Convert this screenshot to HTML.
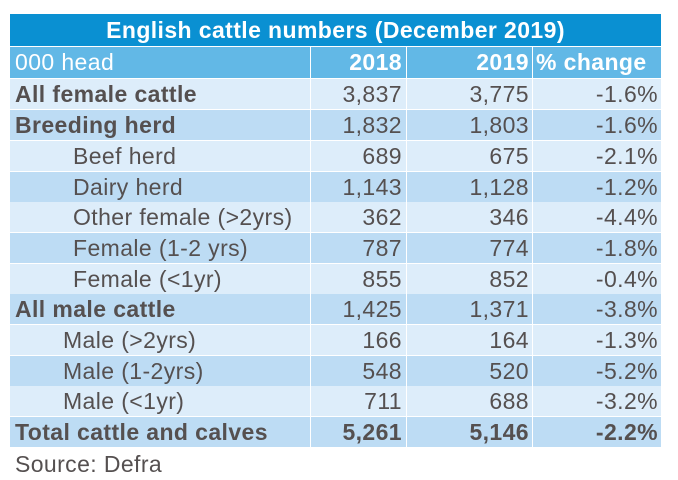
<!DOCTYPE html>
<html><head><style>
body{margin:0;width:678px;height:480px;background:#fff;font-family:"Liberation Sans",sans-serif;position:relative;overflow:hidden;letter-spacing:0.4px}
.r{position:absolute;left:10px;width:651px;height:30px;font-size:23px;color:#555050}
.c{position:absolute;top:0;height:100%;line-height:31px;box-sizing:border-box;white-space:nowrap}
.ca{left:0;width:300px;padding-left:5px}
.cb{left:301px;width:95px;text-align:right;padding-right:4px}
.cd{left:397px;width:125px;text-align:right;padding-right:3px}
.ce{left:523px;width:128px;text-align:right;padding-right:3px}
.lt .c{background:#ddedfa}.md .c{background:#bddcf4}
.bold{font-weight:bold}
</style></head><body>
<div style="position:absolute;left:10px;top:14px;width:651px;height:32px;background:#0a90d2;color:#fff;font-weight:bold;font-size:23px;text-align:center;line-height:32px">English cattle numbers (December 2019)</div>
<div class="r" style="top:47px;height:31px;color:#fff"><div class="c ca" style="background:#62b8e6">000 head</div><div class="c cb bold" style="background:#62b8e6">2018</div><div class="c cd bold" style="background:#62b8e6">2019</div><div class="c ce bold" style="background:#62b8e6;text-align:left;padding-left:3px">% change</div></div>
<div class="r lt" style="top:79px"><div class="c ca bold">All female cattle</div><div class="c cb">3,837</div><div class="c cd">3,775</div><div class="c ce">-1.6%</div></div>
<div class="r md" style="top:110px"><div class="c ca bold">Breeding herd</div><div class="c cb">1,832</div><div class="c cd">1,803</div><div class="c ce">-1.6%</div></div>
<div class="r lt" style="top:141px"><div class="c ca" style="padding-left:63px">Beef herd</div><div class="c cb">689</div><div class="c cd">675</div><div class="c ce">-2.1%</div></div>
<div class="r md" style="top:172px"><div class="c ca" style="padding-left:63px">Dairy herd</div><div class="c cb">1,143</div><div class="c cd">1,128</div><div class="c ce">-1.2%</div></div>
<div class="r lt" style="top:202px"><div class="c ca" style="padding-left:63px">Other female (&gt;2yrs)</div><div class="c cb">362</div><div class="c cd">346</div><div class="c ce">-4.4%</div></div>
<div class="r md" style="top:233px"><div class="c ca" style="padding-left:63px">Female (1-2 yrs)</div><div class="c cb">787</div><div class="c cd">774</div><div class="c ce">-1.8%</div></div>
<div class="r lt" style="top:264px"><div class="c ca" style="padding-left:63px">Female (&lt;1yr)</div><div class="c cb">855</div><div class="c cd">852</div><div class="c ce">-0.4%</div></div>
<div class="r md" style="top:294px"><div class="c ca bold">All male cattle</div><div class="c cb">1,425</div><div class="c cd">1,371</div><div class="c ce">-3.8%</div></div>
<div class="r lt" style="top:325px"><div class="c ca" style="padding-left:53px">Male (&gt;2yrs)</div><div class="c cb">166</div><div class="c cd">164</div><div class="c ce">-1.3%</div></div>
<div class="r md" style="top:356px"><div class="c ca" style="padding-left:53px">Male (1-2yrs)</div><div class="c cb">548</div><div class="c cd">520</div><div class="c ce">-5.2%</div></div>
<div class="r lt" style="top:386px"><div class="c ca" style="padding-left:53px">Male (&lt;1yr)</div><div class="c cb">711</div><div class="c cd">688</div><div class="c ce">-3.2%</div></div>
<div class="r md" style="top:417px"><div class="c ca bold">Total cattle and calves</div><div class="c cb bold">5,261</div><div class="c cd bold">5,146</div><div class="c ce bold">-2.2%</div></div>
<div style="position:absolute;left:15px;top:451px;font-size:23px;color:#555050">Source: Defra</div>
</body></html>
